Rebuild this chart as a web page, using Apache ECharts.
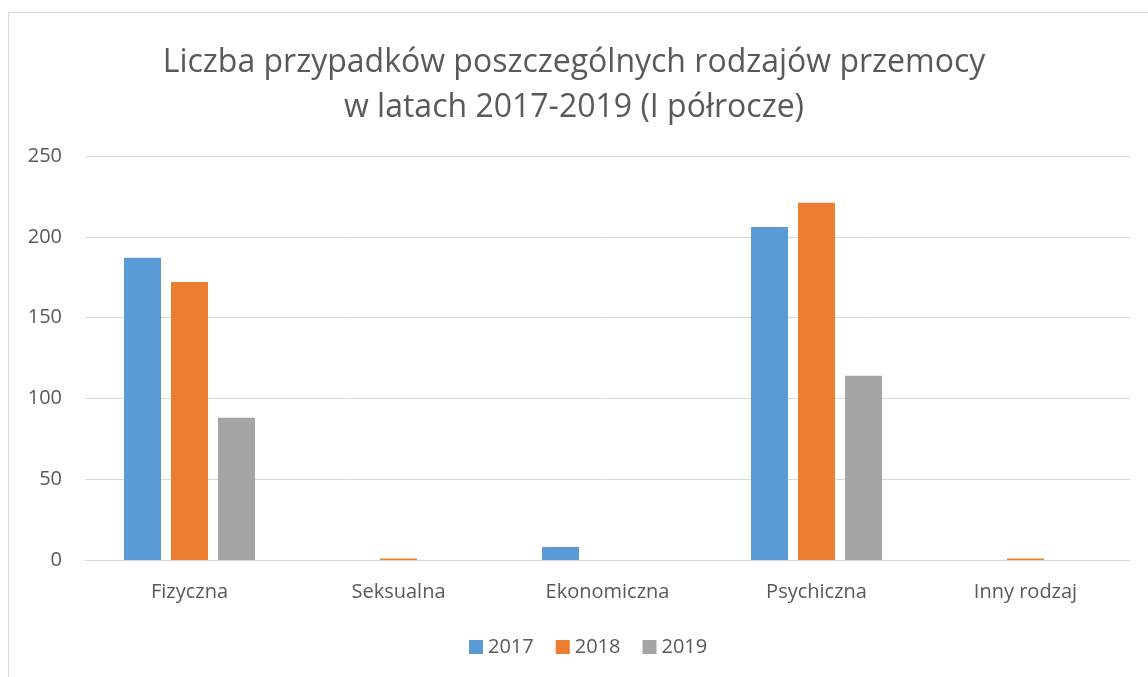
<!DOCTYPE html>
<html>
<head>
<meta charset="utf-8">
<script src="https://cdn.jsdelivr.net/npm/echarts@6/dist/echarts.min.js"></script>
<style>
html,body{margin:0;padding:0;background:#fff;}
#frame{position:absolute;left:8px;top:12px;width:1160px;height:700px;border-left:1px solid #d9d9d9;border-top:1px solid #d9d9d9;}
#main{position:absolute;left:0;top:0;width:1148px;height:677px;}
</style>
</head>
<body>
<div id="frame"></div>
<div id="main"></div>
<script>
var kategorie = ['Fizyczna', 'Seksualna', 'Ekonomiczna', 'Psychiczna', 'Inny rodzaj'];
var lata = ['2017', '2018', '2019'];
var dane2017 = [187, 0, 8, 206, 0];
var dane2018 = [172, 1, 0, 221, 1];
var dane2019 = [88, 0, 0, 114, 0];
var kolory = ['#5b9bd5', '#ed7d31', '#a5a5a5'];

var font = '"Open Sans", sans-serif';

var myChart = echarts.init(document.getElementById('main'));
var wartosci = [dane2017, dane2018, dane2019];
var series = [];
for(var i=0;i<lata.length;i++){
	series.push({
		name: lata[i],
		type: 'bar',
		data: wartosci[i],
		barWidth: 37,
		barGap: '27%',
		itemStyle: {color: kolory[i]}
	});
}

var option = {
	animation: false,
	color: kolory,
	title: {
		text: 'Liczba przypadków poszczególnych rodzajów przemocy\nw latach 2017-2019 (I półrocze)',
		left: 'center',
		top: 35,
		textStyle: {
			fontFamily: font,
			fontSize: 32,
			fontWeight: 'normal',
			color: '#595959',
			lineHeight: 45
		}
	},
	legend: {
		bottom: 15,
		left: 464,
		itemWidth: 14,
		itemHeight: 14,
		itemGap: 22,
		icon: 'rect',
		textStyle: {fontFamily: font, fontSize: 20, color: '#595959'},
		data: lata
	},
	grid: {left: 85, right: 18, top: 156, bottom: 117, containLabel: false},
	xAxis: {
		type: 'category',
		data: kategorie,
		axisLine: {lineStyle: {color: '#d9d9d9', width: 1}},
		axisTick: {show: false},
		axisLabel: {fontFamily: font, fontSize: 20, color: '#595959', margin: 22}
	},
	yAxis: {
		type: 'value',
		min: 0,
		max: 250,
		interval: 50,
		axisLine: {show: false},
		axisTick: {show: false},
		splitLine: {lineStyle: {color: '#d9d9d9', width: 1}},
		axisLabel: {fontFamily: font, fontSize: 20, color: '#595959', margin: 23}
	},
	series: series
};
myChart.setOption(option);
</script>
</body>
</html>
